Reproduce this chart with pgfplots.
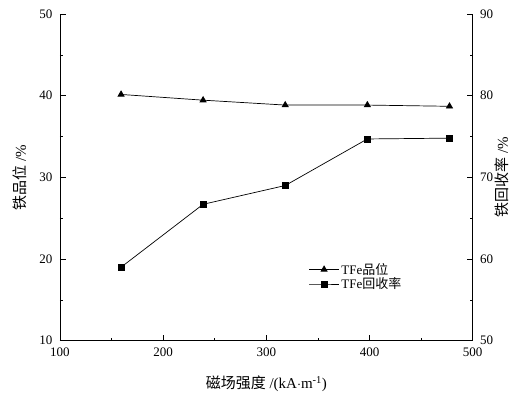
\documentclass[border=0pt]{standalone}
\usepackage{pgfplots}
\pgfplotsset{compat=1.18}
\usepackage{fontspec}
\setmainfont{Liberation Serif}
\newfontfamily\cjk{Noto Sans CJK SC}
\begin{document}
\begin{tikzpicture}
\useasboundingbox (-60pt,-53.3pt) rectangle (454pt,340.7pt);
\pgfplotsset{
  common/.style={
    at={(0pt,0pt)}, anchor=origin,
    scale only axis, width=412.7pt, height=326.7pt,
    xmin=100, xmax=500, xtick={100,200,...,500},
    minor x tick num=1, minor y tick num=1,
    tick align=inside,
    major tick length=6pt, minor tick length=3pt,
    tick style={black, line width=0.6pt},
    axis line style={line width=0.8pt},
    ticklabel style={font=\fontsize{13}{13}\selectfont},
    /pgf/number format/assume math mode=true,
    label style={font=\fontsize{15}{15}\selectfont},
    legend image code/.code={\draw[mark repeat=2,mark phase=2,##1] plot coordinates {(0pt,0pt)(15pt,0pt)(30pt,0pt)};},
  }
}
\begin{axis}[common,
  ymin=10, ymax=50, ytick={10,20,...,50},
  axis y line*=left, axis x line*=bottom,
  xticklabel style={yshift=-4pt},
  yticklabel style={xshift=-4pt},
  xlabel={{\cjk 磁场强度} /(kA$\cdot$m\textsuperscript{-1})},
  ylabel={{\cjk 铁品位} /\%},
  xlabel style={at={(axis description cs:0.5,-0.1330)}, anchor=center},
  ylabel style={at={(axis description cs:-0.0969,0.5)}, anchor=center},
]
\addplot[black, line width=0.7pt, mark=triangle*, mark size=3.5pt] coordinates {
 (159.2,40.15) (238.7,39.45) (318.3,38.85) (397.9,38.85) (477.5,38.7)
};
\end{axis}
\begin{axis}[common,
  ymin=50, ymax=90, ytick={50,60,...,90},
  axis y line*=right, axis x line=none,
  yticklabel style={xshift=4pt},
  ylabel={{\cjk 铁回收率} /\%},
  ylabel style={at={(axis description cs:1.0715,0.5)}, anchor=center, rotate=0},
  legend cell align=left,
  legend style={draw=none, fill=none, at={(0.595,0.25)}, anchor=north west,
    font=\fontsize{13}{14}\selectfont, row sep=-2pt},
]
\addlegendimage{black, line width=0.7pt, mark=triangle*, mark size=3.5pt}
\addlegendentry{TFe{\cjk 品位}}
\addplot[black, line width=0.7pt, mark=square*, mark size=3pt] coordinates {
 (159.2,59.0) (238.7,66.7) (318.3,69.0) (397.9,74.7) (477.5,74.8)
};
\addlegendentry{TFe{\cjk 回收率}}
\end{axis}
\end{tikzpicture}
\end{document}
